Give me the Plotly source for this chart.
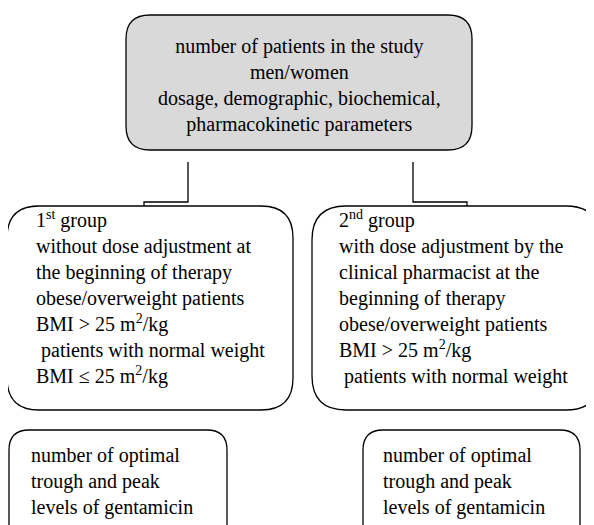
import plotly.graph_objects as go

W, H = 594, 525
OFF = 8  # default page body margin; axis ranges are shifted so data units == screen pixels

# ---- content ----
top_lines = ["number of patients in the study", "men/women",
             "dosage, demographic, biochemical,", "pharmacokinetic parameters"]
group1_lines = ["1<sup>st</sup> group", "without dose adjustment at",
                "the beginning of therapy", "obese/overweight patients",
                "BMI &gt; 25 m<sup>2</sup>/kg", "\u00a0patients with normal weight",
                "BMI \u2264 25 m<sup>2</sup>/kg"]
group2_lines = ["2<sup>nd</sup> group", "with dose adjustment by the",
                "clinical pharmacist at the", "beginning of therapy",
                "obese/overweight patients", "BMI &gt; 25 m<sup>2</sup>/kg",
                "\u00a0patients with normal weight"]
result_lines = ["number of optimal", "trough and peak", "levels of gentamicin"]

# ---- layout geometry (pixels) ----
boxes = [
    dict(x0=126, y0=15, x1=472, y1=150, r=24, fill="#d9d9d9"),
    dict(x0=7, y0=206, x1=293, y1=410, r=32, fill="white"),
    dict(x0=312, y0=206, x1=600, y1=410, r=34, fill="white"),
    dict(x0=9, y0=430, x1=227, y1=560, r=20, fill="white"),
    dict(x0=363, y0=430, x1=580, y1=560, r=20, fill="white"),
]
connectors = [
    [(188, 162), (188, 202), (144, 202), (144, 206)],
    [(413, 162), (413, 202), (467, 202), (467, 206)],
]


def rrect(x0, y0, x1, y1, r):
    return (f"M {x0+r},{y0} L {x1-r},{y0} Q {x1},{y0} {x1},{y0+r} "
            f"L {x1},{y1-r} Q {x1},{y1} {x1-r},{y1} L {x0+r},{y1} "
            f"Q {x0},{y1} {x0},{y1-r} L {x0},{y0+r} Q {x0},{y0} {x0+r},{y0} Z")


fig = go.Figure()
shapes = []
for b in boxes:
    shapes.append(dict(type="path", path=rrect(b["x0"], b["y0"], b["x1"], b["y1"], b["r"]),
                       xref="x", yref="y", fillcolor=b["fill"],
                       line=dict(color="black", width=1.3), layer="below"))
for c in connectors:
    p = "M " + " L ".join(f"{x},{y}" for x, y in c)
    shapes.append(dict(type="path", path=p, xref="x", yref="y",
                       line=dict(color="black", width=1.3)))

font = dict(family="Liberation Serif", size=20, color="black")
ann = []
ann.append(dict(x=299, y=85, text="<br>".join(top_lines), xanchor="center",
                yanchor="middle", align="center"))
ann.append(dict(x=34, y=297, text="<br>".join(group1_lines), xanchor="left",
                yanchor="middle", align="left"))
ann.append(dict(x=337, y=297, text="<br>".join(group2_lines), xanchor="left",
                yanchor="middle", align="left"))
ann.append(dict(x=29, y=481, text="<br>".join(result_lines), xanchor="left",
                yanchor="middle", align="left"))
ann.append(dict(x=381, y=481, text="<br>".join(result_lines), xanchor="left",
                yanchor="middle", align="left"))
for a in ann:
    a.update(xref="x", yref="y", showarrow=False, font=font)

fig.update_layout(
    width=W, height=H, margin=dict(l=0, r=0, t=0, b=0),
    paper_bgcolor="white", plot_bgcolor="white",
    xaxis=dict(range=[OFF, W + OFF], visible=False, fixedrange=True),
    yaxis=dict(range=[H + OFF, OFF], visible=False, fixedrange=True),
    shapes=shapes, annotations=ann, showlegend=False,
)
fig.write_html("out.html")
